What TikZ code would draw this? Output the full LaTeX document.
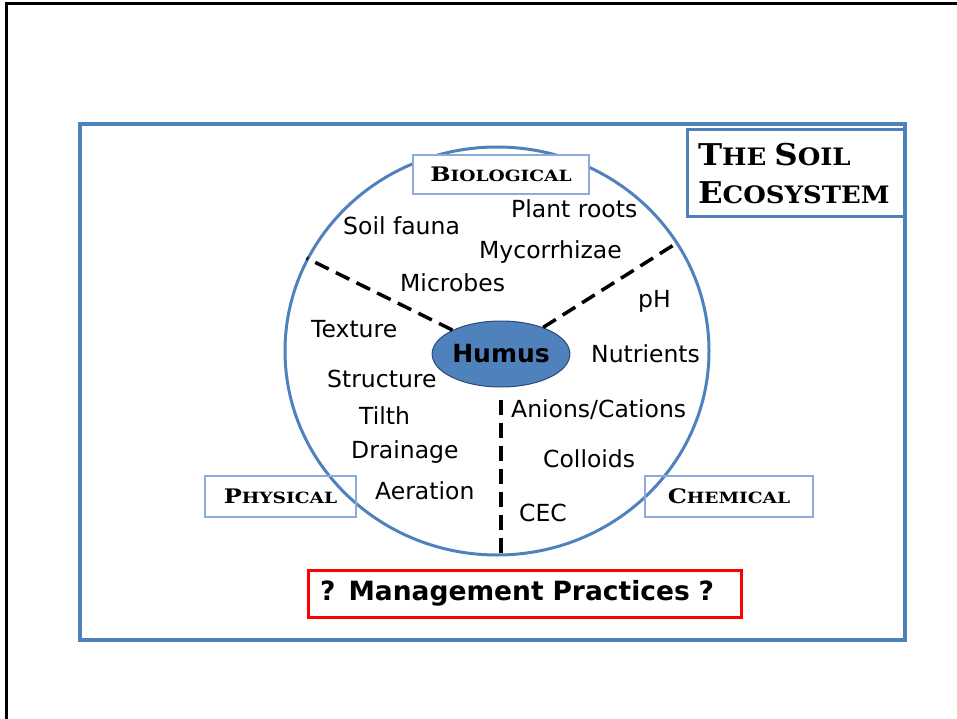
\documentclass[tikz,border=0pt]{standalone}
\usepackage{fontspec}
\setmainfont{DejaVu Sans}
\newfontfamily\capsfont[FakeStretch=1.2]{DejaVu Serif}
\newfontfamily\titlefont[FakeStretch=1.08]{DejaVu Serif}
\usetikzlibrary{shapes.geometric}

\definecolor{frameblue}{HTML}{4F81BD}
\definecolor{boxblue}{HTML}{8EAADB}
\definecolor{humusline}{HTML}{2C4A73}

% small capitals made by hand: large first letter, smaller rest
\newcommand{\groupname}[2]{{\capsfont\bfseries\fontsize{20}{24}\selectfont #1\fontsize{15.5}{24}\selectfont #2}}
\newcommand{\titlename}[2]{{\titlefont\bfseries\fontsize{30}{38}\selectfont #1\fontsize{24}{38}\selectfont #2}}

\begin{document}
\begin{tikzpicture}[x=1pt,y=-1pt,
frame/.style={line width=4pt, frameblue},
groupbox/.style={draw=boxblue, line width=1.2pt, inner sep=0pt},
factor/.style={anchor=base west, inner sep=0pt, font=\fontsize{23.5}{28}\selectfont},
spoke/.style={line width=3.5pt, dash pattern=on 15pt off 8pt}]

\useasboundingbox (0,0) rectangle (957,719);

% page edge
\draw[line width=3pt] (6,719) -- (6,4) -- (957,4);

% outer frame
\draw[frame] (80,124) rectangle (905,640);

% the soil
\node[ellipse, draw=frameblue, line width=3pt, minimum width=424pt, minimum height=408pt, inner sep=0pt] (soil) at (497,351) {};

% Humus in the middle
\node[ellipse, draw=humusline, line width=1pt, fill=frameblue, minimum width=128pt, minimum height=66pt, inner sep=0pt, font=\bfseries\fontsize{25}{30}\selectfont] (humus) at (501,354) {Humus};

\draw[spoke] (humus) -- (soil.154);
\draw[spoke] (humus) -- (soil.31);
\coordinate (cut) at ([yshift=-12pt]humus.south);
\draw[spoke] (cut) -- (cut |- soil.south);

% Groups
\node[groupbox, minimum width=176pt, minimum height=39pt, fill=white] (bio) at (501,174.5) {\groupname{B}{IOLOGICAL}\hspace{10pt}};
\node[groupbox, minimum width=151pt, minimum height=41pt] (phys) at (280.5,496.5) {\groupname{P}{HYSICAL}};
\node[groupbox, minimum width=168pt, minimum height=41pt] (chem) at (729,496.5) {\groupname{C}{HEMICAL}\hspace{10pt}};

% Biological
\node[factor] (fauna) at (343,234) {Soil fauna};
\node[factor] (roots) at (511,218) {Plant roots};
\node[factor] (myco) at (479,258) {Mycorrhizae};
\node[factor] (microbes) at (400,291) {Microbes};

% Physical
\node[factor] (texture) at (311,337) {Texture};
\node[factor] (structure) at (327,387) {Structure};
\node[factor] (tilth) at (359,424) {Tilth};
\node[factor] (drainage) at (351,458) {Drainage};
\node[factor] (aeration) at (375,499) {Aeration};

% Chemical
\node[factor] (ph) at (638,307) {pH};
\node[factor] (nutrients) at (591,362) {Nutrients};
\node[factor] (ions) at (511,417) {Anions/Cations};
\node[factor] (colloids) at (543,467) {Colloids};
\node[factor] (cec) at (519,521) {CEC};

% Title
\node[draw=frameblue, line width=3pt, minimum width=217pt, minimum height=87pt, text width=195pt, align=left, inner sep=0pt, fill=white, font=\fontsize{24}{38}\selectfont] (title) at (795.5,173.5)
  {\titlename{T}{HE} \titlename{S}{OIL}\\\titlename{E}{COSYSTEM}};

% Management
\node[draw=red, line width=3pt, minimum width=433pt, minimum height=47pt, text width=409pt, align=left, inner sep=0pt, font=\bfseries\fontsize{26.5}{30}\selectfont] (mgmt) at (524.5,593.5) {? Management Practices ?};

\end{tikzpicture}
\end{document}
